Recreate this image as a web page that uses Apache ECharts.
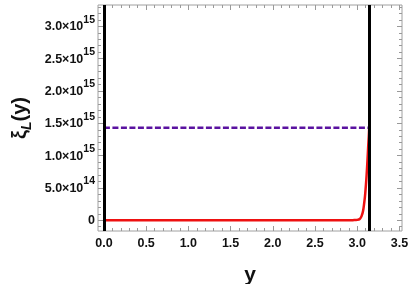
<!DOCTYPE html>
<html>
<head>
<meta charset="utf-8">
<script src="https://cdn.jsdelivr.net/npm/echarts@6/dist/echarts.min.js"></script>
<style>html,body{margin:0;padding:0;background:#fff;}#c{width:409px;height:284px;}</style>
</head>
<body>
<div id="c"></div>
<script>
// Data
var curveX = [0, 0.5, 1.0, 1.5, 2.0, 2.5, 2.8, 2.9, 2.95, 3.0, 3.03, 3.05, 3.07, 3.09, 3.10, 3.11, 3.12, 3.13, 3.137, 3.1416];
var curveY = [0, 0, 0, 0, 0, 0, 0, 0.0005e15, 0.002e15, 0.006e15, 0.02e15, 0.06e15, 0.15e15, 0.35e15, 0.5e15, 0.68e15, 0.9e15, 1.15e15, 1.3e15, 1.43e15];
var plateauValue = 1.43e15;
var plateauX = [0, 3.1416];
var wallX = [0, 3.1416];
var xTicks = [0, 0.5, 1.0, 1.5, 2.0, 2.5, 3.0, 3.5];
var yTicks = [0, 0.5e15, 1.0e15, 1.5e15, 2.0e15, 2.5e15, 3.0e15];
var yTickLabels = ['0', '5.0×10|14', '1.0×10|15', '1.5×10|15', '2.0×10|15', '2.5×10|15', '3.0×10|15'];

var xMin = -0.07, xMax = 3.53, yMin = -0.166e15, yMax = 3.33e15;

function range(a, b, s) { var r = []; for (var v = a; v <= b + 1e-9 * Math.abs(s); v += s) r.push(+v.toPrecision(6)); return r; }
var xMinor = range(0, 3.5, 0.1);
var yMinor = range(-0.1e15, 3.3e15, 0.1e15);

var chart = echarts.init(document.getElementById('c'), null, { renderer: 'canvas' });
var tickColor = '#999';
var font = '"Liberation Sans", Arial, sans-serif';

function xAxisDef(pos, major, showLabel, withName) {
  var a = {
    type: 'value', position: pos, min: xMin, max: xMax,
    axisLine: { show: false, onZero: false }, splitLine: { show: false },
    axisTick: { show: true, inside: true, length: major ? 5 : 3, lineStyle: { color: tickColor, width: 1 }, customValues: major ? xTicks : xMinor },
    axisLabel: { show: showLabel, customValues: xTicks, margin: 6, color: '#111', fontWeight: 'bold', fontSize: 12.5, fontFamily: font,
      formatter: function (v) { return v.toFixed(1); } }
  };
  if (withName) {
    a.name = 'y'; a.nameLocation = 'middle'; a.nameGap = 34;
    a.nameTextStyle = { fontSize: 21, fontWeight: 'bold', color: '#111', fontFamily: font };
  }
  return a;
}
function yAxisDef(pos, major, showLabel, withName) {
  var a = {
    type: 'value', position: pos, min: yMin, max: yMax,
    axisLine: { show: false, onZero: false }, splitLine: { show: false },
    axisTick: { show: true, inside: true, length: major ? 5 : 3, lineStyle: { color: tickColor, width: 1 }, customValues: major ? yTicks : yMinor },
    axisLabel: { show: showLabel, customValues: yTicks, margin: 3, color: '#111', fontFamily: font,
      formatter: function (v) {
        var i = -1;
        for (var k = 0; k < yTicks.length; k++) if (Math.abs(yTicks[k] - v) < 1e10) i = k;
        if (i < 0) return '';
        var s = yTickLabels[i];
        if (s.indexOf('|') < 0) return '{m|' + s + '}';
        var p = s.split('|');
        return '{m|' + p[0] + '}{s|' + p[1] + '}';
      },
      rich: {
        m: { fontSize: 12.5, fontWeight: 'bold', color: '#111', fontFamily: font, verticalAlign: 'bottom', lineHeight: 14 },
        s: { fontSize: 10.5, fontWeight: 'bold', color: '#111', fontFamily: font, verticalAlign: 'bottom', lineHeight: 14, padding: [0, 0, 8, 0] }
      }
    }
  };
  if (withName) {
    a.name = '{a|ξ}{b|L}{a|(y)}'; a.nameLocation = 'middle'; a.nameGap = 62; a.nameRotate = 90;
    a.nameTextStyle = {
      rich: {
        a: { fontSize: 20, fontWeight: 'bold', color: '#111', fontFamily: font, verticalAlign: 'bottom', lineHeight: 22 },
        b: { fontSize: 14, fontWeight: 'bold', fontStyle: 'italic', color: '#111', fontFamily: font, verticalAlign: 'bottom', lineHeight: 22, padding: [0, 0, -3, 0] }
      }
    };
  }
  return a;
}

chart.setOption({
  backgroundColor: '#fff',
  animation: false,
  grid: { left: 98, top: 5, right: 7, bottom: 53, show: true, borderColor: '#a0a0a0', borderWidth: 1, backgroundColor: '#fff', containLabel: false, outerBoundsMode: 'none' },
  xAxis: [
    xAxisDef('bottom', true, true, true),
    xAxisDef('bottom', false, false, false),
    xAxisDef('top', true, false, false),
    xAxisDef('top', false, false, false)
  ],
  yAxis: [
    yAxisDef('left', true, true, true),
    yAxisDef('left', false, false, false),
    yAxisDef('right', true, false, false),
    yAxisDef('right', false, false, false)
  ],
  series: [
    {
      type: 'line', xAxisIndex: 0, yAxisIndex: 0, showSymbol: false, smooth: 0.3,
      lineStyle: { color: '#ee1111', width: 2.5 },
      data: curveX.map(function (x, i) { return [x, curveY[i]]; }),
      z: 3
    },
    {
      type: 'line', xAxisIndex: 0, yAxisIndex: 0, showSymbol: false,
      lineStyle: { color: '#5a12a0', width: 2.5, type: [6, 2.5] },
      data: plateauX.map(function (x) { return [x, plateauValue]; }),
      z: 4
    },
    {
      type: 'line', xAxisIndex: 0, yAxisIndex: 0, showSymbol: false, data: [],
      markLine: {
        silent: true, symbol: 'none', label: { show: false },
        lineStyle: { color: '#000', width: 3, type: 'solid' },
        data: wallX.map(function (x) { return { xAxis: x }; })
      },
      z: 5
    }
  ]
});
</script>
</body>
</html>
